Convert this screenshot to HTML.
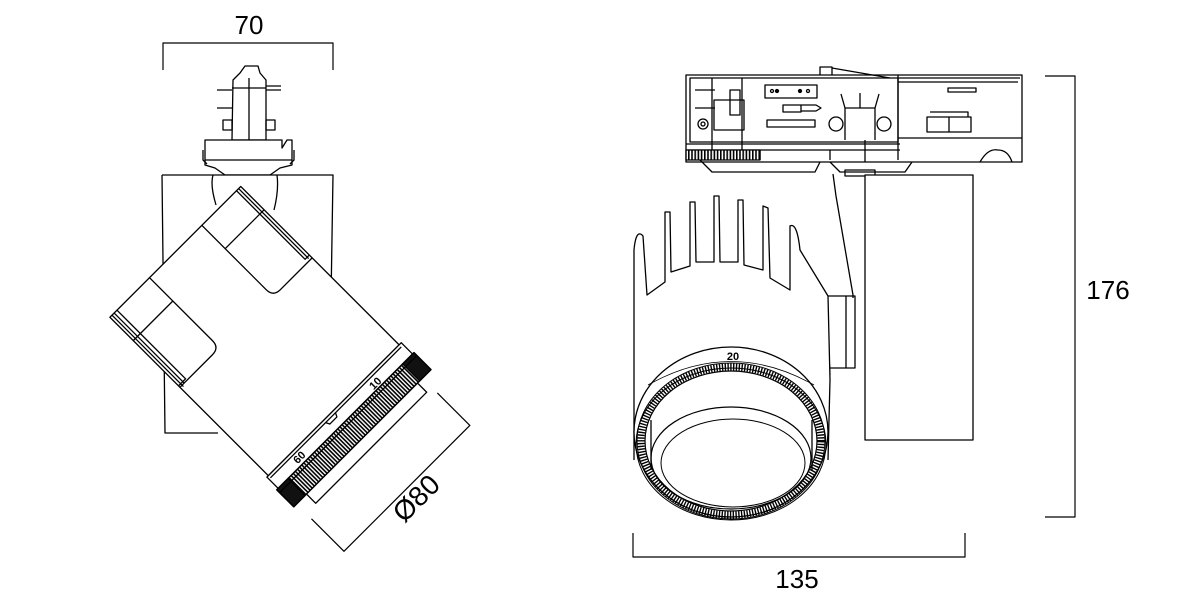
<!DOCTYPE html>
<html><head><meta charset="utf-8"><style>
html,body{margin:0;padding:0;background:#fff;width:1200px;height:600px;overflow:hidden}
svg{display:block}
text{font-family:"Liberation Sans",sans-serif;fill:#000}
</style></head><body>
<svg width="1200" height="600" viewBox="0 0 1200 600" xmlns="http://www.w3.org/2000/svg">
<defs>
<pattern id="kn" width="3" height="3" patternUnits="userSpaceOnUse">
<rect width="3" height="3" fill="#fff"/><rect width="3" height="1.6" fill="#000"/>
</pattern>
<pattern id="kn2" width="3.2" height="10" patternUnits="userSpaceOnUse">
<rect width="3.2" height="10" fill="#fff"/><rect width="1.6" height="10" fill="#000"/>
</pattern>
</defs>
<g fill="none" stroke="#000" stroke-width="1.3" stroke-linejoin="round">
<!-- ===== LEFT VIEW ===== -->
<polyline points="163,70 163,43 333,43 333,70" stroke-width="1.2"/>
<path d="M233,80 L240,73 L245,66 L258,66 L260,73 L266,80 L266,140 L232,140 Z" fill="#fff"/>
<line x1="249" y1="78" x2="249" y2="160"/>
<line x1="232" y1="88" x2="266" y2="88"/>
<path d="M217,90 h15 M217,108 h15 M266,86 h15 M266,90 h15 M223,120 h9 v10 h-9 z M266,120 h9 v10 h-9 z"/>
<path d="M218,140 H282 V148 L287,140 H292 V165 L280,168 L270,175 H225 L215,168 L205,165 V140 Z" fill="#fff"/>
<line x1="205" y1="160" x2="292" y2="160"/>
<path d="M203,150 v10 l4,4 M294,150 v10 l-4,4"/>
<path d="M162,175 L333,175 L331,300 M162,175 L165,433 L218,433" fill="#fff"/>
<path d="M213,175 Q210,185 216,205 M277,175 Q279,190 274,210"/>
<g transform="translate(257,330) rotate(45)">
<rect x="-113" y="-90" width="224" height="185" fill="#fff"/>
<path d="M-113,-35 H-22 Q-12,-35 -12,-45 V-90"/>
<path d="M-113,-84 H-16 V-90 M-113,-87 H-14"/>
<line x1="-80" y1="-90" x2="-80" y2="-35"/>
<path d="M-113,39 H-24 Q-14,39 -14,49 V95"/>
<path d="M-113,85 H-16 V95 M-113,89 H-14 M-113,92 H-12"/>
<line x1="-80" y1="39" x2="-80" y2="95"/>
<rect x="111" y="-93" width="16" height="190" fill="#fff"/>
<line x1="114" y1="-90" x2="114" y2="95"/>
<path d="M114,3 l4,2 v10 l-4,2"/>
<rect x="148" y="-76" width="16" height="157" fill="#fff"/>
<rect x="127" y="-95" width="24" height="194" fill="url(#kn)" stroke-width="1.5"/>
<rect x="127" y="-95" width="24" height="16" fill="#111"/>
<rect x="127" y="83" width="24" height="16" fill="#111"/>
<line x1="131" y1="-95" x2="131" y2="99"/>
<polyline points="172,-83 218,-83 218,95 172,95" stroke-width="1.2"/>
</g>
<!-- ===== RIGHT VIEW ===== -->
<polyline points="1045,76 1075,76 1075,517 1045,517" stroke-width="1.2"/>
<polyline points="633,533 633,557 965,557 965,533" stroke-width="1.2"/>
<rect x="686" y="75" width="336" height="87" fill="#fff"/>
<rect x="690" y="78" width="208" height="64"/>
<path d="M898,78 H1020 M898,82 H1018 M898,138 H1022 M898,75 V160"/>
<path d="M686,144 H900 M686,150 H900 M760,150 V160 M830,150 V160 M865,140 V162"/>
<path d="M712,78 V150 M742,78 V150 M714,100 h30 v30 h-30 z M730,90 h10 v25 h-10 z"/>
<path d="M695,90 h20 M695,108 h20"/>
<circle cx="703" cy="124" r="5"/><circle cx="703" cy="124" r="2"/>
<rect x="765" y="85" width="52" height="13"/>
<circle cx="772" cy="91" r="1.5"/><circle cx="777" cy="91" r="1.5" fill="#000"/><circle cx="800" cy="91" r="1.5" fill="#000"/><circle cx="808" cy="91" r="1.5"/>
<rect x="783" y="105" width="18" height="7"/><path d="M801,105 h15 l5,3 l-5,3 h-15"/>
<rect x="767" y="120" width="48" height="7"/>
<circle cx="836" cy="124" r="7"/><circle cx="884" cy="124" r="7"/>
<path d="M845,140 V108 h30 v32 M845,108 l-4,-14 M860,108 v-15 M875,108 l4,-14"/>
<path d="M820,75 v-8 h12 v8 M832,68 L890,78"/>
<rect x="927" y="117" width="44" height="15"/><path d="M949,117 v15 M930,112 h38 v5"/>
<rect x="948" y="88" width="28" height="4"/>
<path d="M980,162 Q988,148 998,150 Q1008,150 1012,162"/>
<rect x="686" y="150" width="74" height="10" fill="url(#kn2)"/>
<path d="M700,160 L712,172 H815 L820,162 M830,162 L840,172 H905 L912,162"/>
<rect x="845" y="170" width="30" height="6"/>
<path d="M833,174 L836,196 L853,295 V298" fill="none"/>
<rect x="865" y="175" width="108" height="265" fill="#fff"/>
<path d="M826,296 H846 V368 H826 Z M846,296 H855 V368 H846 M826,296 L830,375"/>
<path d="M634,460 V250 Q636,228 643,236 L647,295 L665,282 L665,212 L670,212 L671,272 L690,266 L690,202 L695,202 L696,262 L714,262 L714,196 L719,196 L720,262 L738,262 L738,200 L743,200 L744,265 L763,270 L763,206 L768,208 L770,278 L790,290 L790,226 Q797,222 800,250 L828,296 L830,380 L828,460" fill="#fff"/>
<ellipse cx="731" cy="432" rx="97" ry="85" fill="#fff"/>
<ellipse cx="731" cy="441" rx="94" ry="78" stroke-width="1"/>
<ellipse cx="731" cy="441" rx="90" ry="74" stroke-width="7" stroke-dasharray="1.4 1.4"/>
<ellipse cx="731" cy="441" rx="86" ry="70" stroke-width="1.2"/>
<ellipse cx="731" cy="444" rx="95" ry="76" stroke-width="1"/>
<ellipse cx="731" cy="458" rx="80" ry="51" stroke-width="1.2"/>
<ellipse cx="733" cy="463" rx="72" ry="44" stroke-width="1"/>
<path d="M651,420 V470 M812,420 V470"/>
<path d="M648,385 Q731,338 814,385" stroke-width="0.8"/>
</g>
<text x="249" y="34" font-size="26" text-anchor="middle">70</text>
<text x="1108" y="299" font-size="26" text-anchor="middle">176</text>
<text x="797" y="588" font-size="26" text-anchor="middle">135</text>
<text x="733" y="360" font-size="11" font-weight="bold" text-anchor="middle">20</text>
<text font-size="28" text-anchor="middle" transform="translate(423,505) rotate(-45)">Ø80</text>
<text font-size="11" font-weight="bold" text-anchor="middle" transform="translate(378,386) rotate(-45)">10</text>
<text font-size="11" font-weight="bold" text-anchor="middle" transform="translate(302,460) rotate(-45)">60</text>
</svg>
</body></html>
